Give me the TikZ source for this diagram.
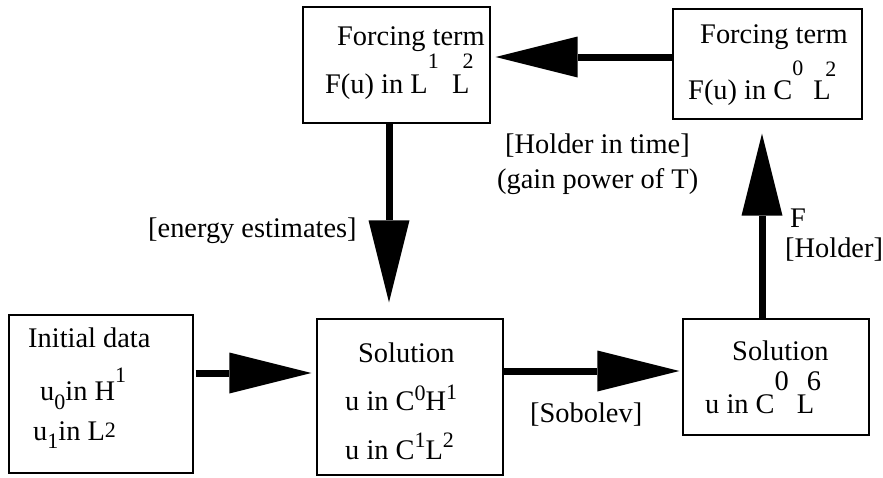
\documentclass[tikz,border=0pt]{standalone}
\usepackage{fontspec}
\setmainfont{Liberation Serif}
\usetikzlibrary{arrows.meta}
% text sizes: body text and raised/lowered indices
\newcommand\mainsz{\fontsize{28.4}{34}\selectfont}
\newcommand\scsz{\fontsize{22}{26}\selectfont}
\newcommand\upsc[2]{\raisebox{#1}{\scsz #2}}
\begin{document}
\begin{tikzpicture}[x=1pt,y=-1pt,
  box/.style={draw,line width=1.2pt,rectangle,inner sep=0pt},
  txt/.style={anchor=base west,inner sep=0pt,font=\mainsz},
  bigarrow/.style={line width=7pt,-{Triangle[length=82pt,width=41pt,line width=0pt]}}]
\useasboundingbox (0,0) rectangle (883,477);

% boxes
\node[box,minimum width=187pt,minimum height=116pt] (ftl)  at (396.5,65) {};
\node[box,minimum width=189pt,minimum height=110pt] (ftr)  at (767.5,64) {};
\node[box,minimum width=184pt,minimum height=158pt] (init) at (101,394) {};
\node[box,minimum width=186pt,minimum height=156pt] (sol)  at (410,397) {};
\node[box,minimum width=186pt,minimum height=116pt] (solr) at (776,377) {};

% forcing term, L1 L2
\node[txt] (ftlA) at (337,45) {Forcing term};
\node[txt] (ftlB) at (325,93) {F(u) in L\upsc{25pt}{1}\hspace{13.4pt}L\hspace{-7pt}\upsc{25pt}{2}};

% forcing term, C0 L2
\node[txt] (ftrA) at (700,43) {Forcing term};
\node[txt] (ftrB) at (688,99) {F(u) in C\upsc{24pt}{0}\hspace{10pt}L\hspace{-5.4pt}\upsc{23pt}{2}};

% initial data
\node[txt] (initA) at (28,347) {Initial data};
\node[txt] (initB) at (40,400) {u\upsc{-9pt}{0}in H\upsc{18pt}{1}};
\node[txt] (initC) at (33,440) {u\upsc{-8pt}{1}in L\upsc{3pt}{2}};

% energy solution
\node[txt] (solA) at (358,362) {Solution};
\node[txt] (solB) at (345,410) {u in C\upsc{10pt}{0}H\upsc{11pt}{1}};
\node[txt] (solC) at (345,459) {u in C\upsc{12pt}{1}L\upsc{12pt}{2}};

% Sobolev solution
\node[txt] (solrA) at (732,360) {Solution};
\node[txt] (solrB) at (705,413) {u in C\raisebox{23pt}{0}\hspace{8pt}L\hspace{-7.4pt}\raisebox{23pt}{6}};

% arrow labels
\node[txt] (lblE)  at (148,237) {[energy estimates]};
\node[txt] (lblH1) at (505,153) {[Holder in time]};
\node[txt] (lblH2) at (497,188) {(gain power of T)};
\node[txt] (lblF)  at (790,227) {F};
\node[txt] (lblH)  at (785,257) {[Holder]};
\node[txt] (lblS)  at (530,422) {[Sobolev]};

% connectors
\draw[bigarrow,shorten <=2pt,shorten >=5pt] (init.east |- 0,373) -- (sol.west |- 0,373);
\draw[bigarrow,shorten >=3pt] (sol.east |- 0,371) -- (solr.west |- 0,371);
\draw[bigarrow,shorten >=14pt] (solr.north -| 762,0) -- (ftr.south -| 762,0);
\draw[bigarrow,shorten >=5pt] (ftr.west |- 0,57) -- (ftl.east |- 0,57);
\draw[bigarrow,shorten >=16pt] (ftl.south -| 389,0) -- (sol.north -| 389,0);
\end{tikzpicture}
\end{document}
